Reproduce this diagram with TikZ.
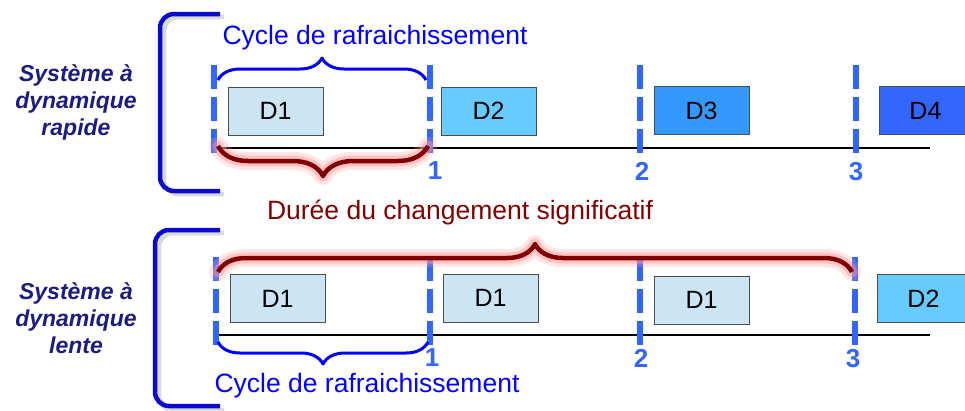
\documentclass[tikz,border=0pt]{standalone}
\usepackage{fontspec}
\setmainfont{Liberation Sans}
\usepackage{xcolor}
\usetikzlibrary{positioning,calc,decorations.pathreplacing}

\definecolor{tickblue}{HTML}{3366FF}
\definecolor{bracketblue}{HTML}{0A0ACC}
\definecolor{labelnavy}{HTML}{1C1C80}
\definecolor{durered}{HTML}{800000}
\definecolor{dlight}{HTML}{CCE5F5}
\definecolor{dsky}{HTML}{66CCFF}
\definecolor{dmid}{HTML}{3399FF}
\definecolor{ddeep}{HTML}{3366FF}

\begin{document}
\begin{tikzpicture}[x=1pt, y=-1pt,
    tick/.style={tickblue, line width=6.5pt, dash pattern=on 24pt off 8pt},
    timeline/.style={black, line width=1.8pt},
    slot/.style={draw=black!70, line width=0.9pt, minimum width=95pt, minimum height=48pt,
        inner sep=0pt, font=\fontsize{25}{30}\selectfont},
    ticknum/.style={tickblue, font=\bfseries\fontsize{26}{28}\selectfont},
    syslabel/.style={labelnavy, align=center, font=\bfseries\itshape\fontsize{23}{27}\selectfont},
    cyclebrace/.style={decorate, decoration={brace, amplitude=#1}, blue, line width=3pt, line join=round},
    dureebrace/.style={decorate, decoration={brace, amplitude=#1}, durered, line width=4.5pt, line join=round},
    glow/.style={decorate, decoration={brace, amplitude=#1}, red!40, line join=round, line cap=round},
    sysbracket/.style={bracketblue, line width=4.5pt, rounded corners=14pt},
    bracketshadow/.style={black!25, line width=4.5pt, rounded corners=14pt, opacity=0.6}]

  \useasboundingbox (0,0) rectangle (965,410);

  % ---------- fast system (top)
  \draw[bracketshadow] (224,17) -- (164,17) -- (164,194) -- (224,194);
  \draw[sysbracket] (220,14) -- (160,14) -- (160,191) -- (220,191);
  \node[syslabel] (fastlabel) at (76,102) {Système à\\dynamique\\rapide};

  \coordinate (fa0) at (214,148);
  \coordinate (fa1) at (430,148);
  \coordinate (fa2) at (640,148);
  \coordinate (fa3) at (856,148);
  \coordinate (faend) at (930,148);
  \draw[timeline] (fa0) -- (faend);

  \node[slot, fill=dlight] (fd1) at (275.5,111) {D1};
  \node[slot, fill=dsky]  (fd2) at (488.5,111) {D2};
  \node[slot, fill=dmid]  (fd3) at (701.5,110.5) {D3};
  \node[slot, fill=ddeep, minimum width=92pt, anchor=west] (fd4) at (879,110.5) {D4};

  \foreach \t in {fa0,fa1,fa2,fa3}
    \draw[tick] ($(\t)+(0,-83)$) -- ($(\t)+(0,12)$);

  \node[ticknum] (fn1) at (435,171) {1};
  \node[ticknum] (fn2) at (642,171) {2};
  \node[ticknum] (fn3) at (856,172) {3};

  % refresh cycle brace
  \coordinate (fcl) at (218,80);
  \coordinate (fcr) at (426,80);
  \draw[cyclebrace=22pt] (fcl) -- (fcr);
  \node[blue, font=\fontsize{26.5}{30}\selectfont] (fcycle) at (375,38) {Cycle de rafraichissement};

  % significant change brace (glow first)
  \coordinate (fdl) at (428,146);
  \coordinate (fdr) at (218,146);
  \draw[glow=30pt, line width=18pt, opacity=0.25] (fdl) -- (fdr);
  \draw[glow=30pt, line width=11pt, opacity=0.45] (fdl) -- (fdr);
  \draw[dureebrace=30pt] (fdl) -- (fdr);

  \node[durered, font=\fontsize{26.5}{30}\selectfont] (duree) at (460,212) {Durée du changement significatif};

  % ---------- slow system (bottom)
  \draw[bracketshadow] (224,233) -- (159,233) -- (159,410) -- (224,410);
  \draw[sysbracket] (220,230) -- (155,230) -- (155,406) -- (220,406);
  \node[syslabel] (slowlabel) at (76,318) {Système à\\dynamique\\lente};

  \coordinate (sa0) at (216,335);
  \coordinate (sa1) at (430,335);
  \coordinate (sa2) at (640,335);
  \coordinate (sa3) at (855,335);
  \coordinate (saend) at (930,335);
  \draw[timeline] (sa0) -- (saend);

  \node[slot, fill=dlight] (sd1) at (277.5,298.5) {D1};
  \node[slot, fill=dlight] (sd2) at (490.5,298) {D1};
  \node[slot, fill=dlight] (sd3) at (701.5,300) {D1};
  \node[slot, fill=dsky, minimum width=92pt, anchor=west] (sd4) at (877,298.5) {D2};

  \foreach \t in {sa0,sa1,sa2,sa3}
    \draw[tick] ($(\t)+(0,-78)$) -- ($(\t)+(0,10)$);

  \node[ticknum] (sn1) at (432,358) {1};
  \node[ticknum] (sn2) at (641,358) {2};
  \node[ticknum] (sn3) at (853,359) {3};

  % significant change brace (glow first)
  \coordinate (sdl) at (218,272);
  \coordinate (sdr) at (852,272);
  \draw[glow=28pt, line width=18pt, opacity=0.25] (sdl) -- (sdr);
  \draw[glow=28pt, line width=11pt, opacity=0.45] (sdl) -- (sdr);
  \draw[dureebrace=28pt] (sdl) -- (sdr);

  % refresh cycle brace
  \coordinate (scl) at (428,342);
  \coordinate (scr) at (218,342);
  \draw[cyclebrace=22pt] (scl) -- (scr);
  \node[blue, font=\fontsize{26.5}{30}\selectfont] (scycle) at (367,386) {Cycle de rafraichissement};
\end{tikzpicture}
\end{document}
